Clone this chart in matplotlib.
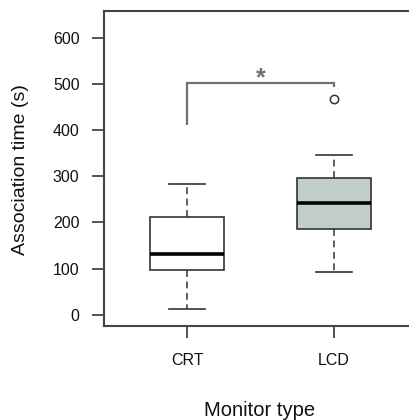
import matplotlib
matplotlib.use("Agg")
import matplotlib.pyplot as plt

plt.rcParams['font.family'] = ['Liberation Sans', 'DejaVu Sans']

categories = ['CRT', 'LCD']
whislo = [12, 92]
q1 = [97, 186]
med = [132, 242]
q3 = [212, 296]
whishi = [283, 347]
fliers = [[], [468]]
fills = ['white', '#c2cecc']
yticks = [0, 100, 200, 300, 400, 500, 600]

bracket_left_low = 410
bracket_top = 501
bracket_right_low = 492

fig = plt.figure(figsize=(4.09, 4.20), dpi=100)
ax = fig.add_axes([104/409, 94/420, 313/409, 315/420])

stats = []
for i, c in enumerate(categories):
    stats.append(dict(label=c, whislo=whislo[i], q1=q1[i], med=med[i],
                      q3=q3[i], whishi=whishi[i], fliers=fliers[i]))

edge = '#333333'
bp = ax.bxp(stats, positions=[1, 2], widths=0.5, patch_artist=True,
            capwidths=0.25,
            boxprops=dict(edgecolor=edge, linewidth=1.2),
            medianprops=dict(color='black', linewidth=2.6, solid_capstyle='butt'),
            whiskerprops=dict(color=edge, linewidth=1.1, linestyle=(0, (4.5, 3))),
            capprops=dict(color=edge, linewidth=1.2),
            flierprops=dict(marker='o', markerfacecolor='white',
                            markeredgecolor=edge, markersize=6, markeredgewidth=1.1))
for patch, f in zip(bp['boxes'], fills):
    patch.set_facecolor(f)

# significance bracket
gray = '#707070'
ax.plot([1, 1, 2, 2], [bracket_left_low, bracket_top, bracket_top, bracket_right_low],
        color=gray, linewidth=1.6, solid_joinstyle='miter', solid_capstyle='butt')
ax.text(1.5, 497, '*', ha='center', va='baseline', fontsize=18,
        color=gray, fontweight='bold')

ax.set_xlim(0.435, 2.565)
ax.set_ylim(-23.8, 657.3)
ax.set_yticks(yticks)
ax.set_xticks([1, 2])
ax.set_xticklabels(categories)

spine_c = '#444444'
for s in ax.spines.values():
    s.set_color(spine_c)
    s.set_linewidth(1.5)

ax.tick_params(axis='y', length=8.6, width=1.3, color=spine_c, pad=9,
               labelsize=11.5, labelcolor='#111111')
ax.tick_params(axis='x', length=8.6, width=1.3, color=spine_c, pad=11,
               labelsize=11.5, labelcolor='#111111')

fig.text(21/409, 1 - 170/420, 'Association time (s)', rotation=90,
         ha='center', va='center', fontsize=14, color='#111111')
fig.text(260/409, 1 - 411/420, 'Monitor type', ha='center', va='center',
         fontsize=14.5, color='#111111')

fig.savefig('out.png', dpi=100)
